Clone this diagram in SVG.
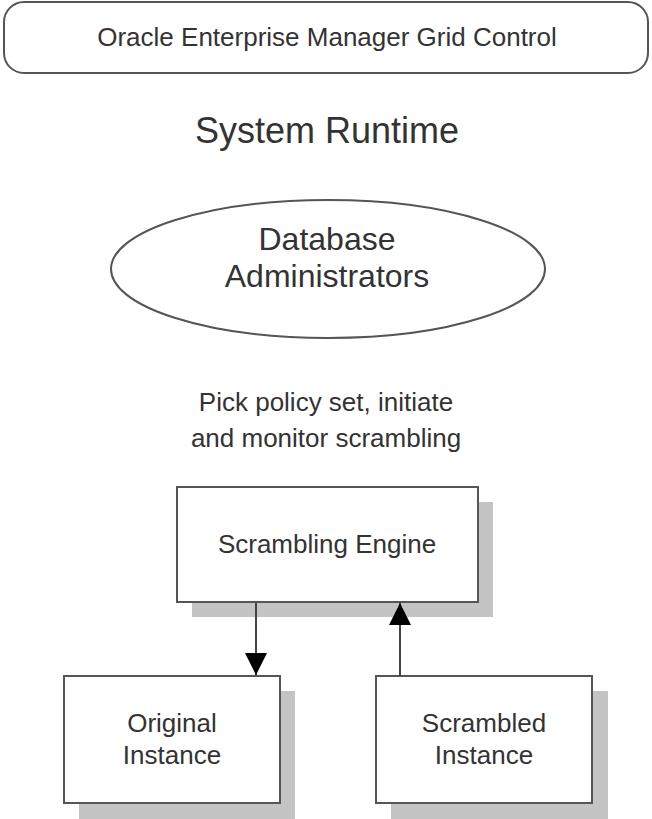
<svg xmlns="http://www.w3.org/2000/svg" width="652" height="819" viewBox="0 0 652 819">
<defs>
<style>
text{font-family:"Liberation Sans",Arial,sans-serif;fill:#333;text-anchor:middle}
.box{fill:#fff;stroke:#555;stroke-width:2}
.shadow{fill:#c4c4c4}
.conn{stroke:#444;stroke-width:2;fill:none}
.t26{font-size:26px}
</style>
<marker id="arr" viewBox="0 0 22 22" refX="22" refY="11" markerWidth="22" markerHeight="22" markerUnits="userSpaceOnUse" orient="auto">
<path d="M0,0 L22,11 L0,22 Z" fill="#000"/>
</marker>
</defs>
<g id="grid-control">
<rect class="box" x="4" y="2" width="644" height="71" rx="20" ry="20"/>
<text class="t26" x="327" y="46">Oracle Enterprise Manager Grid Control</text>
</g>
<g id="title">
<text x="327" y="143" font-size="36">System Runtime</text>
</g>
<g id="dba">
<ellipse class="box" cx="328" cy="269" rx="217" ry="69"/>
<text x="327" y="250" font-size="32">Database</text>
<text x="327" y="287" font-size="32">Administrators</text>
</g>
<g id="label">
<text class="t26" x="326" y="411">Pick policy set, initiate</text>
<text class="t26" x="326" y="447">and monitor scrambling</text>
</g>
<g id="engine">
<rect class="shadow" x="192" y="502" width="301" height="115"/>
<rect class="box" x="177" y="487" width="301" height="115"/>
<text class="t26" x="327" y="553">Scrambling Engine</text>
</g>
<g id="original">
<rect class="shadow" x="79" y="691" width="216" height="128"/>
<rect class="box" x="64" y="676" width="216" height="127"/>
<text class="t26" x="172" y="732">Original</text>
<text class="t26" x="172" y="764">Instance</text>
</g>
<g id="scrambled">
<rect class="shadow" x="391" y="691" width="217" height="128"/>
<rect class="box" x="376" y="676" width="216" height="127"/>
<text class="t26" x="484" y="732">Scrambled</text>
<text class="t26" x="484" y="764">Instance</text>
</g>
<g id="connectors">
<line class="conn" x1="256" y1="603" x2="256" y2="675" marker-end="url(#arr)"/>
<line class="conn" x1="400" y1="676" x2="400" y2="603" marker-end="url(#arr)"/>
</g>
</svg>
